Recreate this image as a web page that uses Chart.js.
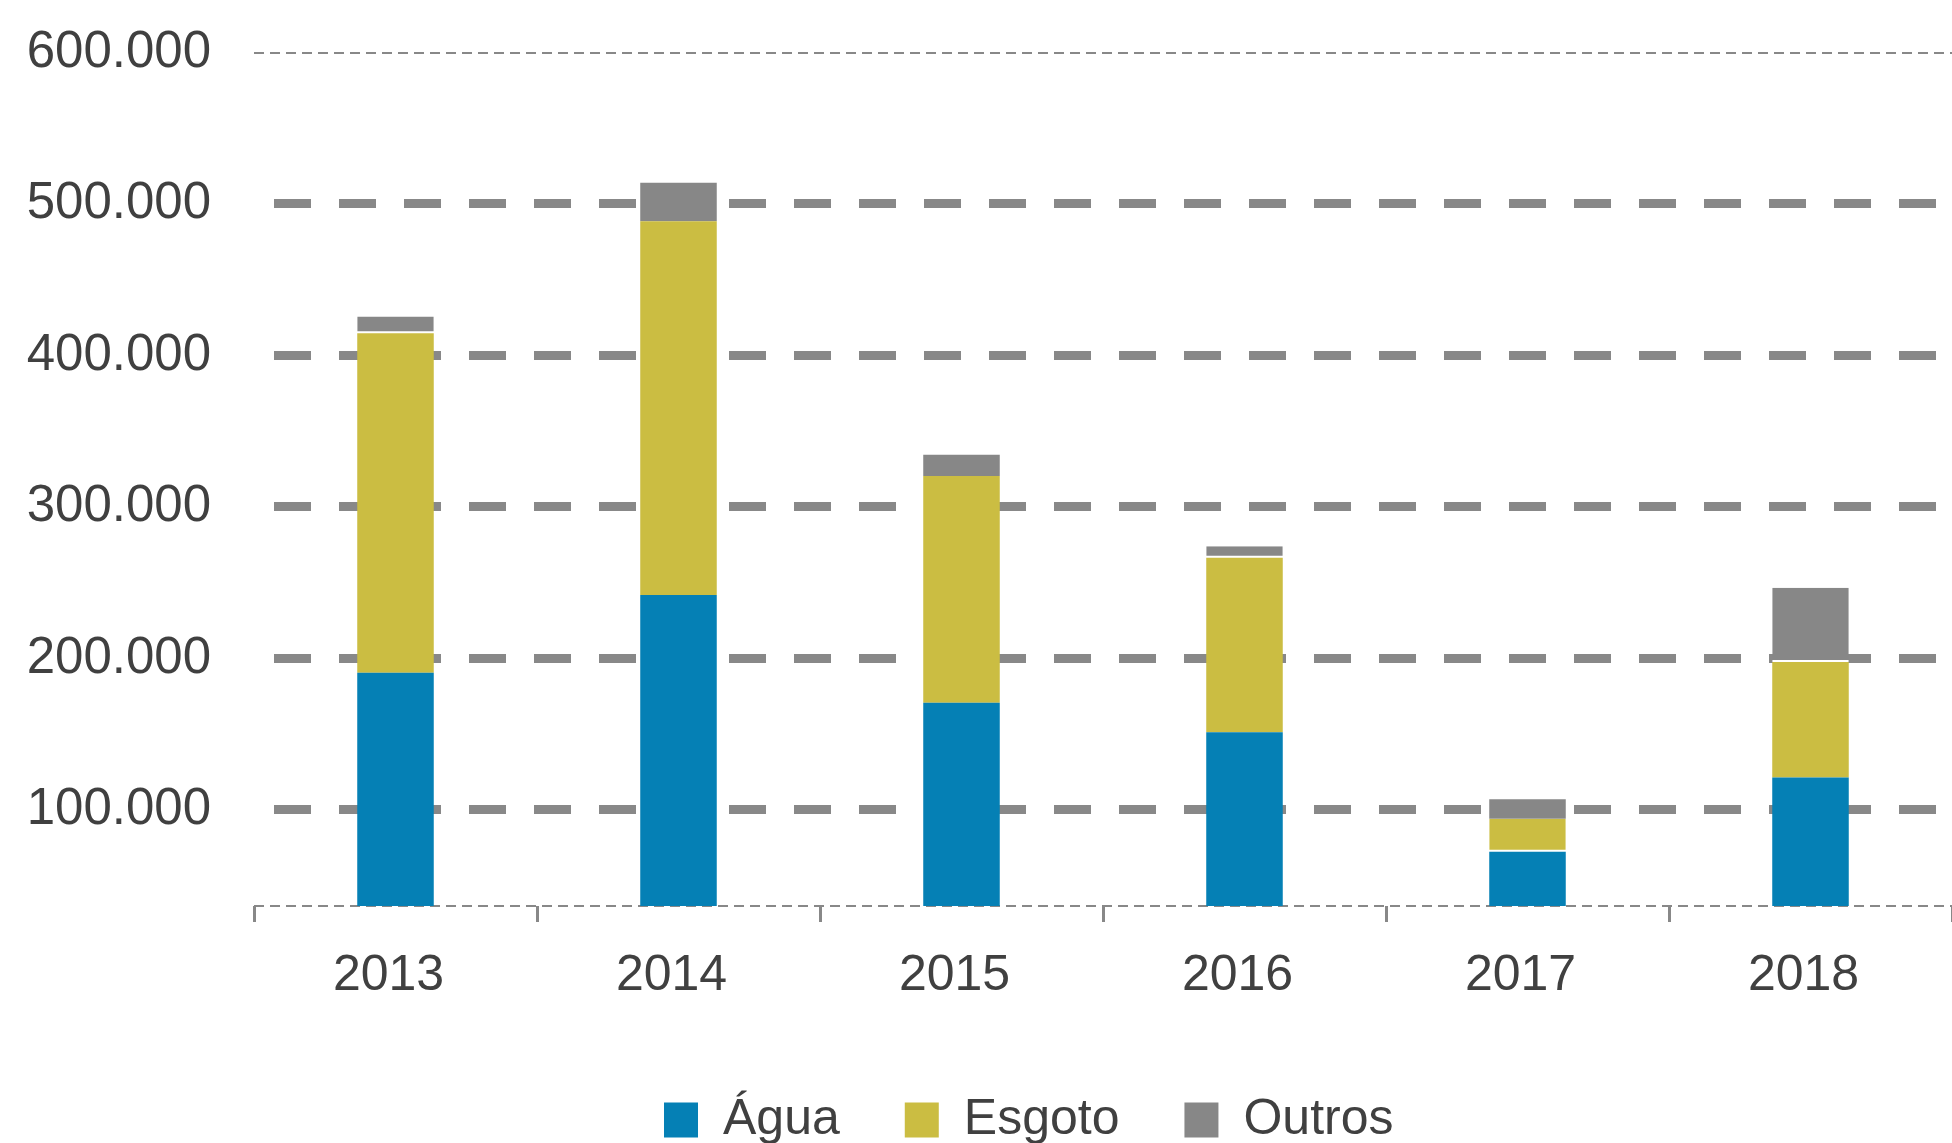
<!DOCTYPE html>
<html>
<head>
<meta charset="utf-8">
<script src="https://cdn.jsdelivr.net/npm/chart.js@4/dist/chart.umd.min.js"></script>
<style>
html,body{margin:0;padding:0;background:#fff;overflow:hidden;}
#wrap{width:1952px;height:1143px;overflow:hidden;position:relative;background:#fff;}
canvas{display:block;}
</style>
</head>
<body>
<div id="wrap"><canvas id="c" width="1952" height="1155"></canvas></div>
<script>
// ---- data ----
const years = ['2013', '2014', '2015', '2016', '2017', '2018'];
const agua = [190500, 241900, 170700, 151300, 72400, 121400];
const esgoto = [224200, 246700, 149800, 115200, 21800, 76200];
const outros = [11100, 25400, 14000, 7500, 12900, 49000];
const seriesNames = ['Água', 'Esgoto', 'Outros'];
const yTickValues = [100000, 200000, 300000, 400000, 500000, 600000];
const yTickLabels = ['100.000', '200.000', '300.000', '400.000', '500.000', '600.000'];
const yMin = 36600;
const yMax = 600000;

// ---- styling ----
const FONT = "'Liberation Sans', Arial, Helvetica, sans-serif";
const TEXT = '#404040';
const GRID = '#888888';
const COLORS = ['#0580b5', '#cbbd42', '#878787'];
Chart.defaults.font.family = FONT;

function isThick(ctx) {
  const v = ctx.tick ? ctx.tick.value : 0;
  return v >= 100000 && v <= 500000;
}

// thin white seams seen in the original between some stacked segments
const outrosSeam = ['2013', '2016', '2018'];
const esgotoSeam = ['2017'];
function seam(list) {
  return (ctx) => list.includes(years[ctx.dataIndex]) ? { top: 0, left: 0, right: 0, bottom: 2 } : 0;
}

// shifts the (full-width) legend block so it is centred like the original
const legendShift = {
  id: 'legendShift',
  afterLayout(chart) {
    if (chart.legend) chart.legend.left += 98;
  }
};

new Chart(document.getElementById('c'), {
  type: 'bar',
  plugins: [legendShift],
  data: {
    labels: years,
    datasets: [
      { label: seriesNames[0], data: agua, backgroundColor: COLORS[0], borderWidth: 0 },
      { label: seriesNames[1], data: esgoto, backgroundColor: COLORS[1],
        borderColor: '#ffffff', borderSkipped: false, borderWidth: seam(esgotoSeam) },
      { label: seriesNames[2], data: outros, backgroundColor: COLORS[2],
        borderColor: '#ffffff', borderSkipped: false, borderWidth: seam(outrosSeam) }
    ]
  },
  options: {
    responsive: false,
    animation: false,
    devicePixelRatio: 1,
    datasets: { bar: { categoryPercentage: 1, barPercentage: 0.2704 } },
    layout: { padding: { left: 0, right: -7.5, top: 52.5, bottom: 0 } },
    plugins: {
      tooltip: { enabled: false },
      legend: {
        position: 'bottom',
        labels: {
          boxWidth: 34,
          boxHeight: 35,
          padding: 65,
          color: TEXT,
          font: { size: 50, family: FONT },
          generateLabels: (chart) => chart.data.datasets.map((ds, i) => ({
            text: ds.label,
            fillStyle: ds.backgroundColor,
            strokeStyle: ds.backgroundColor,
            lineWidth: 0,
            hidden: false,
            datasetIndex: i,
            fontColor: TEXT
          }))
        }
      }
    },
    scales: {
      x: {
        stacked: true,
        grid: {
          display: true,
          offset: true,
          drawOnChartArea: false,
          drawTicks: true,
          tickLength: 16,
          tickWidth: 3,
          tickColor: GRID
        },
        border: { display: false },
        ticks: {
          color: TEXT,
          font: { size: 50, lineHeight: 1.84, family: FONT },
          padding: 8,
          labelOffset: -7,
          maxRotation: 0,
          autoSkip: false
        }
      },
      y: {
        stacked: true,
        min: yMin,
        max: yMax,
        afterBuildTicks: (scale) => {
          scale.ticks = [yMin].concat(yTickValues).map(v => ({ value: v }));
        },
        afterFit: (scale) => { scale.width = 254; },
        grid: {
          color: GRID,
          drawTicks: true,
          tickLength: 43,
          tickColor: 'rgba(0,0,0,0)',
          lineWidth: (ctx) => isThick(ctx) ? 9 : 2
        },
        border: {
          display: false,
          dash: (ctx) => isThick(ctx) ? [37, 28] : [10, 6],
          dashOffset: (ctx) => isThick(ctx) ? 45 : 0
        },
        ticks: {
          color: TEXT,
          padding: 0,
          font: { size: 51, family: FONT },
          callback: (value) => {
            const i = yTickValues.indexOf(value);
            return i >= 0 ? yTickLabels[i] : '';
          }
        }
      }
    }
  }
});
</script>
</body>
</html>
